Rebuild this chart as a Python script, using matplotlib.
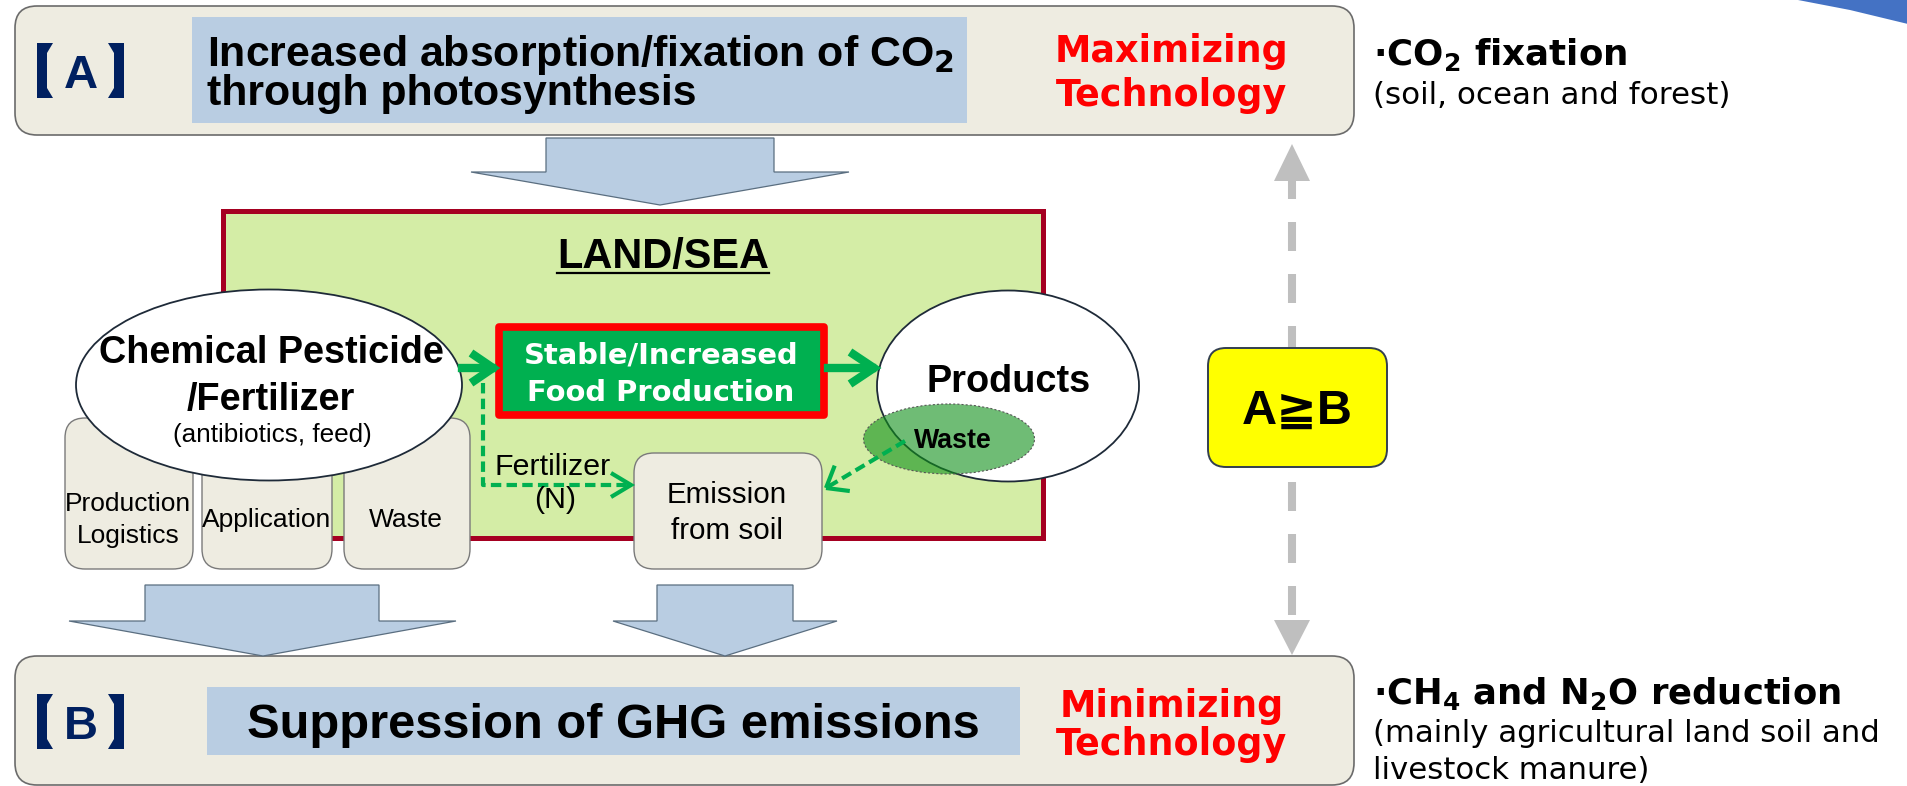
import matplotlib
matplotlib.use('Agg')
import matplotlib.pyplot as plt
from matplotlib.patches import FancyBboxPatch, Ellipse, Polygon, Rectangle
from matplotlib.lines import Line2D
import numpy as np

plt.rcParams['lines.scale_dashes'] = False
plt.rcParams['mathtext.fontset'] = 'dejavusans'

# ---------------- text content ----------------
label_a = 'A'
title_a = ['Increased absorption/fixation of CO$_\\mathbf{2}$', 'through photosynthesis']
tech_a = ['Maximizing', 'Technology']
note_a = ['·CO$_\\mathbf{2}$ fixation', '(soil, ocean and forest)']
label_b = 'B'
title_b = 'Suppression of GHG emissions'
tech_b = ['Minimizing', 'Technology']
note_b = ['·CH$_\\mathbf{4}$ and N$_\\mathbf{2}$O reduction',
          '(mainly agricultural land soil and', 'livestock manure)']
land_title = 'LAND/SEA'
chem_lines = ['Chemical Pesticide', '/Fertilizer', '(antibiotics, feed)']
stage_labels = [['Production', 'Logistics'], ['Application'], ['Waste']]
food_lines = ['Stable/Increased', 'Food Production']
products_label = 'Products'
waste_label = 'Waste'
fert_lines = ['Fertilizer', '(N)']
emission_lines = ['Emission', 'from soil']
compare_label = 'A≧B'

W, H = 1908, 786
fig = plt.figure(figsize=(W / 100, H / 100), dpi=100)
ax = fig.add_axes([0, 0, 1, 1])
ax.set_xlim(0, W)
ax.set_ylim(H, 0)
ax.axis('off')

VERD = ['DejaVu Sans', 'Noto Sans CJK JP']
ARIAL = ['Liberation Sans', 'DejaVu Sans', 'Noto Sans CJK JP']

BEIGE = '#eeece1'
LBLUE = '#b9cde2'
GREEN = '#00b050'
NAVY = '#002060'
GREY_EDGE = '#6b6b6b'


def rbox(x0, y0, x1, y1, r, fc, ec, lw=1.2, z=1):
    p = FancyBboxPatch((x0, y0), x1 - x0, y1 - y0,
                       boxstyle=f'round,pad=0,rounding_size={r}',
                       fc=fc, ec=ec, lw=lw, zorder=z)
    ax.add_patch(p)
    return p


# ---------------- corner decoration ----------------
ax.add_patch(Polygon([(1798, 0), (1908, 0), (1908, 24), (1850, 10)], closed=True,
                     fc='#4472c4', ec='none', zorder=1))

# ---------------- box A ----------------
rbox(15, 6, 1354, 135, 22, BEIGE, GREY_EDGE)
ax.add_patch(Rectangle((192, 17), 775, 106, fc=LBLUE, ec='none', zorder=2))

# ---------------- box B ----------------
rbox(15, 656, 1354, 785, 22, BEIGE, GREY_EDGE)
ax.add_patch(Rectangle((207, 687), 813, 68, fc=LBLUE, ec='none', zorder=2))


# lenticular brackets around the A / B labels
def brackets(yc):
    y0, y1 = yc - 27.5, yc + 27.5
    left = [(53, y0), (37, y0), (37, y1), (53, y1), (47, y1 - 10), (47, y0 + 10)]
    right = [(108, y0), (124, y0), (124, y1), (108, y1), (114, y1 - 10), (114, y0 + 10)]
    for pts in (left, right):
        ax.add_patch(Polygon(pts, closed=True, fc=NAVY, ec='none', zorder=5))


brackets(70.5)
brackets(721.5)


# ---------------- block arrows ----------------
def block_arrow(sx0, sx1, y0, yh, hx0, hx1, tipx, tipy):
    pts = [(sx0, y0), (sx1, y0), (sx1, yh), (hx1, yh), (tipx, tipy),
           (hx0, yh), (sx0, yh)]
    ax.add_patch(Polygon(pts, closed=True, fc=LBLUE, ec='#5a6e80', lw=0.9, zorder=3))


block_arrow(546, 774, 138, 172, 471, 849, 660, 205)
block_arrow(145, 379, 585, 621, 69, 456, 263, 656)
block_arrow(657, 793, 585, 621, 613, 837, 725, 656)

# ---------------- LAND/SEA ----------------
ax.add_patch(Rectangle((223, 211), 820, 327, fc='#d4eda6', ec='#a50021', lw=3.6, zorder=1))

# stage boxes
stage_x = [(65, 193), (202, 332), (344, 470)]
for (x0, x1) in stage_x:
    rbox(x0, 418, x1, 569, 20, BEIGE, '#7a7a7a', lw=1.0, z=2)
rbox(634, 453, 822, 569, 20, BEIGE, '#7a7a7a', lw=1.0, z=2)

# ellipses
ax.add_patch(Ellipse((269, 385), 386, 191, fc='white', ec='#1e2a38', lw=1.3, zorder=3))
ax.add_patch(Ellipse((1008, 386), 262, 191, fc='white', ec='#1e2a38', lw=1.3, zorder=3))
ax.add_patch(Ellipse((949, 439), 171, 70, fc='#10901a', alpha=0.6, ec='none', zorder=4))
ax.add_patch(Ellipse((949, 439), 171, 70, fc='none', ec='#555555', lw=0.8,
                     ls=(0, (1.5, 1.5)), zorder=4))

# food production box
ax.add_patch(Rectangle((499, 327), 325, 88, fc=GREEN, ec='#ff0000', lw=5.5, zorder=3,
                       joinstyle='round'))


# ---------------- green arrows ----------------
def chevron(tipx, tipy, dx, dy, lw):
    pts = [(tipx - dx, tipy - dy), (tipx, tipy), (tipx - dx, tipy + dy)]
    xs, ys = zip(*pts)
    ax.add_line(Line2D(xs, ys, color=GREEN, lw=lw, solid_joinstyle='miter',
                       solid_capstyle='butt', zorder=6))


ax.add_line(Line2D([462, 492], [368, 368], color=GREEN, lw=6, zorder=6))
chevron(493, 368, 22, 15, 6)
ax.add_line(Line2D([828, 872], [368, 368], color=GREEN, lw=6, zorder=6))
chevron(874, 368, 24, 16, 6)

# dashed fertilizer path
ax.add_line(Line2D([483, 483, 628], [383, 485, 485], color=GREEN, lw=3.0, zorder=6,
                   dashes=(7.5, 3.8)))
chevron(631, 485, 20, 12, 3.0)

# waste -> emission
p0 = np.array([905.0, 441.0])
p1 = np.array([826.0, 488.0])
ax.add_line(Line2D([p0[0], p1[0]], [p0[1], p1[1]], color=GREEN, lw=3.0, zorder=6,
                   dashes=(7.5, 3.8)))
d = (p0 - p1) / np.linalg.norm(p0 - p1)
for a in (np.deg2rad(38), -np.deg2rad(38)):
    rot = np.array([[np.cos(a), -np.sin(a)], [np.sin(a), np.cos(a)]])
    q = p1 + rot @ d * 24
    ax.add_line(Line2D([p1[0], q[0]], [p1[1], q[1]], color=GREEN, lw=3.0, zorder=6,
                       solid_capstyle='butt'))

# ---------------- grey dashed double arrow ----------------
GREY = '#bfbfbf'
ax.add_patch(Polygon([(1292, 144), (1310, 181), (1274, 181)], closed=True, fc=GREY,
                     ec='none', zorder=2))
ax.add_patch(Polygon([(1292, 655), (1310, 620), (1274, 620)], closed=True, fc=GREY,
                     ec='none', zorder=2))
y = 586
while y > 181:
    ax.add_line(Line2D([1292, 1292], [max(y, 181), min(y + 29, 620)], color=GREY, lw=5.8,
                       solid_capstyle='butt', zorder=2))
    y -= 52
ax.add_line(Line2D([1292, 1292], [181, 199], color=GREY, lw=5.8,
                   solid_capstyle='butt', zorder=2))

# yellow comparison box
rbox(1208, 348, 1387, 467, 18, '#ffff00', '#333f4f', lw=1.4, z=5)


# ---------------- texts ----------------
def T(x, y, s, family, weight='normal', color='black', ha='left', va='baseline', z=10,
      size=20, linespacing=1.2):
    return ax.text(x, y, s, fontsize=size, family=family, fontweight=weight, color=color,
                   ha=ha, va=va, zorder=z, multialignment=ha, linespacing=linespacing)


fig.canvas.draw()
R = fig.canvas.get_renderer()


def fit(t, w, others=()):
    for _ in range(2):
        bb = t.get_window_extent(R)
        t.set_fontsize(t.get_fontsize() * w / bb.width)
    for o in others:
        o.set_fontsize(t.get_fontsize())


def multiline(x, y_last, lines, w, step, family, weight='normal', color='black',
              ha='left'):
    """Multi-line text fitted to width w, with baseline step `step` pixels."""
    lsp = 1.2
    t = T(x, y_last, '\n'.join(lines), family, weight, color, ha, linespacing=lsp)
    fit(t, w)
    probe = T(x, y_last, lines[0], family, weight, color, ha, size=t.get_fontsize())
    h1 = probe.get_window_extent(R).height
    probe.remove()
    for _ in range(3):
        h2 = t.get_window_extent(R).height
        cur = (h2 - h1) / (len(lines) - 1)
        lsp = lsp * step / cur
        t.set_linespacing(lsp)
    return t


# Box A
T(81, 87.5, label_a, ARIAL, 'bold', NAVY, ha='center', size=34)
multiline(207, 105, title_a, 748, 37, ARIAL, 'bold')
m1 = T(1172, 62, tech_a[0], VERD, 'bold', '#ff0000', ha='center')
m2 = T(1172, 106, tech_a[1], VERD, 'bold', '#ff0000', ha='center')
fit(m2, 230, [m1])
n1 = T(1373, 65, note_a[0], VERD, 'bold')
fit(n1, 254)
n2 = T(1373, 104, note_a[1], VERD)
fit(n2, 357)

# Box B
T(81, 739, label_b, ARIAL, 'bold', NAVY, ha='center', size=34)
b1 = T(613, 738, title_b, ARIAL, 'bold', ha='center')
fit(b1, 733)
mm1 = T(1172, 717, tech_b[0], VERD, 'bold', '#ff0000', ha='center')
mm2 = T(1172, 755, tech_b[1], VERD, 'bold', '#ff0000', ha='center')
fit(mm2, 230, [mm1])
nb1 = T(1373, 704, note_b[0], VERD, 'bold')
fit(nb1, 467)
multiline(1373, 779, note_b[1:], 507, 37, VERD)

# LAND/SEA
ls = T(663, 268, land_title, ARIAL, 'bold', ha='center')
fit(ls, 212)
bb = ls.get_window_extent(R)
ax.add_line(Line2D([bb.x0, bb.x1], [273, 273], color='black', lw=1.6, zorder=10))

# chemical ellipse
c1 = T(271, 363, chem_lines[0], ARIAL, 'bold', ha='center')
c2 = T(271, 410, chem_lines[1], ARIAL, 'bold', ha='center')
fit(c1, 345, [c2])
c3 = T(272, 442, chem_lines[2], ARIAL, ha='center')
fit(c3, 199)

# stages
s1 = T(128, 511, stage_labels[0][0], ARIAL, ha='center')
s2 = T(128, 543, stage_labels[0][1], ARIAL, ha='center')
s3 = T(267, 527, stage_labels[1][0], ARIAL, ha='center')
s4 = T(406, 527, stage_labels[2][0], ARIAL, ha='center')
fit(s1, 126, [s2, s3, s4])

# food production
f1 = T(661, 364, food_lines[0], VERD, 'bold', 'white', ha='center')
f2 = T(661, 401, food_lines[1], VERD, 'bold', 'white', ha='center')
fit(f1, 275, [f2])

# products / waste
pr = T(1009, 392, products_label, ARIAL, 'bold', ha='center')
fit(pr, 164)
wa = T(953, 448, waste_label, ARIAL, 'bold', ha='center')
fit(wa, 78)

# fertilizer
fe1 = T(553, 475, fert_lines[0], ARIAL, ha='center')
fe2 = T(555, 508, fert_lines[1], ARIAL, ha='center')
fit(fe1, 116, [fe2])

# emission
e1 = T(727, 503, emission_lines[0], ARIAL, ha='center')
e2 = T(727, 539, emission_lines[1], ARIAL, ha='center')
fit(e1, 120, [e2])

# comparison
cm = T(1297, 424, compare_label, ARIAL, 'bold', ha='center')
fit(cm, 111)

fig.savefig('out.png', dpi=100, facecolor='white')
